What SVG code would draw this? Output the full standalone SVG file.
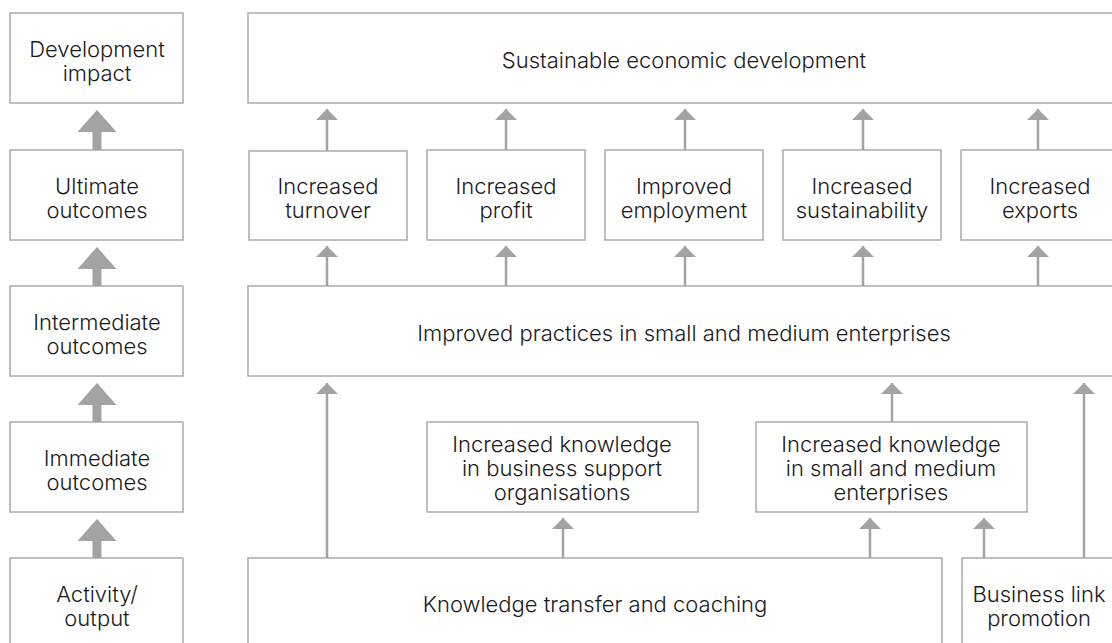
<svg xmlns="http://www.w3.org/2000/svg" width="1112" height="643" viewBox="0 0 1112 643">
  <defs>
    <style>
      .box { fill: #ffffff; stroke: #ababab; stroke-width: 1.5; }
      .lbl { font-family: "Inter", "DejaVu Sans", sans-serif; font-weight: 300; font-size: 22px; fill: #1a1a1a; text-anchor: middle; }
      .link { stroke: #a3a3a3; stroke-width: 2.5; fill: none; marker-end: url(#head); }
      .big { fill: #a3a3a3; }
    </style>
    <marker id="head" markerUnits="userSpaceOnUse" markerWidth="22" markerHeight="12" viewBox="0 0 22 12" refX="11" refY="1" orient="0">
      <path d="M0,12 L11,1 L22,12 Z" fill="#a3a3a3"/>
    </marker>
  </defs>

  <rect width="1112" height="643" fill="#ffffff"/>

  <!-- level column -->
  <g id="level-impact">
    <rect class="box" x="10" y="13" width="173" height="90"/>
    <text class="lbl" x="97" y="57">Development</text>
    <text class="lbl" x="97" y="81">impact</text>
  </g>
  <g id="level-ultimate">
    <rect class="box" x="10" y="150" width="173" height="90"/>
    <text class="lbl" x="97" y="194">Ultimate</text>
    <text class="lbl" x="97" y="218">outcomes</text>
  </g>
  <g id="level-intermediate">
    <rect class="box" x="10" y="286" width="173" height="90"/>
    <text class="lbl" x="97" y="330">Intermediate</text>
    <text class="lbl" x="97" y="354">outcomes</text>
  </g>
  <g id="level-immediate">
    <rect class="box" x="10" y="422" width="173" height="90"/>
    <text class="lbl" x="97" y="466">Immediate</text>
    <text class="lbl" x="97" y="490">outcomes</text>
  </g>
  <g id="level-activity">
    <rect class="box" x="10" y="558" width="173" height="100"/>
    <text class="lbl" x="97" y="602">Activity/</text>
    <text class="lbl" x="97" y="626">output</text>
  </g>

  <!-- impact row -->
  <g id="sustainable-development">
    <rect class="box" x="248" y="13" width="880" height="90"/>
    <text class="lbl" x="684" y="68">Sustainable economic development</text>
  </g>

  <!-- ultimate outcomes row -->
  <g id="turnover">
    <rect class="box" x="249" y="151" width="158" height="89"/>
    <text class="lbl" x="328" y="194">Increased</text>
    <text class="lbl" x="328" y="218">turnover</text>
  </g>
  <g id="profit">
    <rect class="box" x="427" y="150" width="158" height="90"/>
    <text class="lbl" x="506" y="194">Increased</text>
    <text class="lbl" x="506" y="218">profit</text>
  </g>
  <g id="employment">
    <rect class="box" x="605" y="150" width="158" height="90"/>
    <text class="lbl" x="684" y="194">Improved</text>
    <text class="lbl" x="684" y="218">employment</text>
  </g>
  <g id="sustainability">
    <rect class="box" x="783" y="150" width="158" height="90"/>
    <text class="lbl" x="862" y="194">Increased</text>
    <text class="lbl" x="862" y="218">sustainability</text>
  </g>
  <g id="exports">
    <rect class="box" x="961" y="150" width="158" height="90"/>
    <text class="lbl" x="1040" y="194">Increased</text>
    <text class="lbl" x="1040" y="218">exports</text>
  </g>

  <!-- intermediate row -->
  <g id="improved-practices">
    <rect class="box" x="248" y="286" width="880" height="90"/>
    <text class="lbl" x="684" y="341">Improved practices in small and medium enterprises</text>
  </g>

  <!-- immediate row -->
  <g id="knowledge-bso">
    <rect class="box" x="427" y="422" width="271" height="90"/>
    <text class="lbl" x="562" y="452">Increased knowledge</text>
    <text class="lbl" x="562" y="476">in business support</text>
    <text class="lbl" x="562" y="500">organisations</text>
  </g>
  <g id="knowledge-sme">
    <rect class="box" x="756" y="422" width="271" height="90"/>
    <text class="lbl" x="891" y="452">Increased knowledge</text>
    <text class="lbl" x="891" y="476">in small and medium</text>
    <text class="lbl" x="891" y="500">enterprises</text>
  </g>

  <!-- activity row -->
  <g id="knowledge-transfer">
    <rect class="box" x="248" y="558" width="694" height="100"/>
    <text class="lbl" x="595" y="612">Knowledge transfer and coaching</text>
  </g>
  <g id="business-link">
    <rect class="box" x="962" y="558" width="170" height="100"/>
    <text class="lbl" x="1039" y="602">Business link</text>
    <text class="lbl" x="1039" y="626">promotion</text>
  </g>

  <!-- connectors -->
  <g id="connectors">
    <!-- level column: wide arrows -->
    <path class="big" d="M97,110 L116.5,132 L101.5,132 L101.5,150 L92.5,150 L92.5,132 L77.5,132 Z"/>
    <path class="big" d="M97,247 L116.5,269 L101.5,269 L101.5,286 L92.5,286 L92.5,269 L77.5,269 Z"/>
    <path class="big" d="M97,383 L116.5,405 L101.5,405 L101.5,422 L92.5,422 L92.5,405 L77.5,405 Z"/>
    <path class="big" d="M97,519 L116.5,541 L101.5,541 L101.5,558 L92.5,558 L92.5,541 L77.5,541 Z"/>

    <!-- ultimate outcomes to sustainable development -->
    <line class="link" x1="327" y1="151" x2="327" y2="109"/>
    <line class="link" x1="506" y1="150" x2="506" y2="109"/>
    <line class="link" x1="685" y1="150" x2="685" y2="109"/>
    <line class="link" x1="863" y1="150" x2="863" y2="109"/>
    <line class="link" x1="1038" y1="150" x2="1038" y2="109"/>

    <!-- improved practices to ultimate outcomes -->
    <line class="link" x1="327" y1="286" x2="327" y2="246"/>
    <line class="link" x1="506" y1="286" x2="506" y2="246"/>
    <line class="link" x1="685" y1="286" x2="685" y2="246"/>
    <line class="link" x1="863" y1="286" x2="863" y2="246"/>
    <line class="link" x1="1038" y1="286" x2="1038" y2="246"/>

    <!-- into improved practices -->
    <line class="link" x1="327" y1="558" x2="327" y2="383"/>
    <line class="link" x1="892" y1="422" x2="892" y2="383"/>
    <line class="link" x1="1084" y1="558" x2="1084" y2="383"/>

    <!-- activities to immediate outcomes -->
    <line class="link" x1="563" y1="558" x2="563" y2="518"/>
    <line class="link" x1="870" y1="558" x2="870" y2="518"/>
    <line class="link" x1="984" y1="558" x2="984" y2="518"/>
  </g>
</svg>
